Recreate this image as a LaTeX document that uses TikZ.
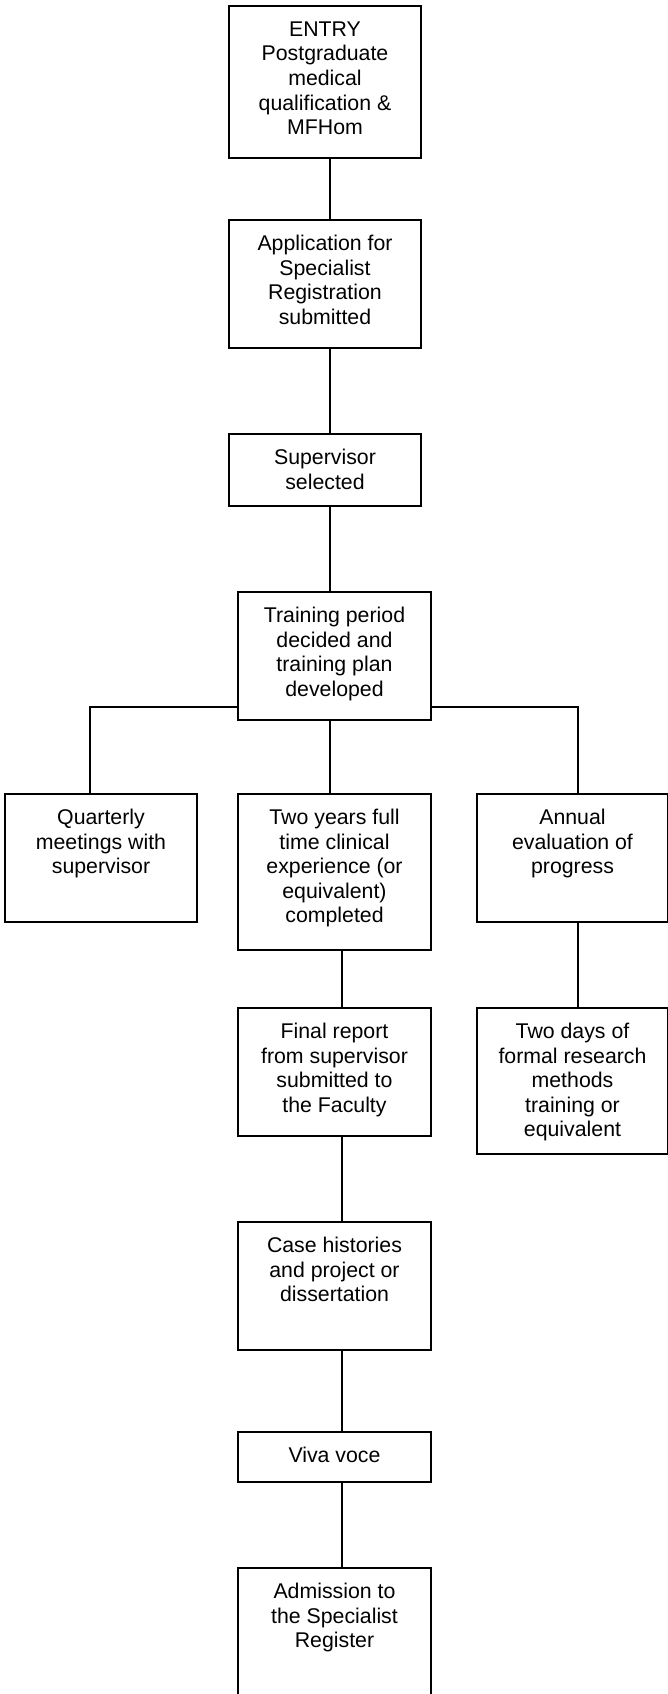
\documentclass[tikz,border=0pt]{standalone}
\usepackage{fontspec}
\setmainfont{Liberation Sans}
\usetikzlibrary{positioning}

\newcommand{\steptext}[3]{\parbox[c][#2pt][t]{#1pt}{\centering\rule{0pt}{30.5pt}#3}}
\tikzset{
	flowbox/.style={draw, line width=2pt, inner sep=0pt, anchor=north west,
		font=\fontsize{21.3}{24.5}\selectfont},
	flowline/.style={line width=2pt}
}

\begin{document}
\begin{tikzpicture}[x=1pt, y=-1pt]
		\useasboundingbox (0,0) rectangle (668,1694);
		\coordinate (colA) at (330,0);
		\coordinate (colB) at (342,0);
		\coordinate (colL) at (90,0);
		\coordinate (colR) at (578,0);
		\coordinate (fork) at (0,707);
		% main column
		\draw (228,5) node [flowbox] (entry) {\steptext{192}{152}{ENTRY\\Postgraduate\\medical\\qualification \&\\MFHom}};
		\draw (228,219) node [flowbox] (appl) {\steptext{192}{128}{Application for\\Specialist\\Registration\\submitted}};
		\draw (228,433) node [flowbox] (sup) {\steptext{192}{72}{Supervisor\\selected}};
		\draw (237,591) node [flowbox] (train) {\steptext{193}{128}{Training period\\decided and\\training plan\\developed}};
		% three branches
		\draw (4,793) node [flowbox] (quart) {\steptext{192}{128}{Quarterly\\meetings with\\supervisor}};
		\draw (237,793) node [flowbox] (two) {\steptext{193}{156}{Two years full\\time clinical\\experience (or\\equivalent)\\completed}};
		\draw (476,793) node [flowbox] (ann) {\steptext{191}{128}{Annual\\evaluation of\\progress}};
		\draw (476,1007) node [flowbox] (days) {\steptext{191}{146}{Two days of\\formal research\\methods\\training or\\equivalent}};
		\draw (237,1007) node [flowbox] (final) {\steptext{193}{128}{Final report\\from supervisor\\submitted to\\the Faculty}};
		\draw (237,1221) node [flowbox] (case) {\steptext{193}{128}{Case histories\\and project or\\dissertation}};
		\draw (237,1431) node [flowbox] (viva) {\steptext{193}{50}{Viva voce}};
		% bottom edge runs off the page
		\draw (237,1567) node [flowbox] (adm) {\steptext{193}{134}{Admission to\\the Specialist\\Register}};
		\path[flowline]
			(entry.south -| colA) edge (appl.north -| colA)
			(appl.south -| colA) edge (sup.north -| colA)
			(sup.south -| colA) edge (train.north -| colA)
			(train.south -| colA) edge (two.north -| colA)
			(two.south -| colB) edge (final.north -| colB)
			(ann.south -| colR) edge (days.north -| colR)
			(final.south -| colB) edge (case.north -| colB)
			(case.south -| colB) edge (viva.north -| colB)
			(viva.south -| colB) edge (adm.north -| colB);
		\draw[flowline] (train.west |- fork) -| (quart.north -| colL);
		\draw[flowline] (train.east |- fork) -| (ann.north -| colR);
	\end{tikzpicture}
\end{document}
